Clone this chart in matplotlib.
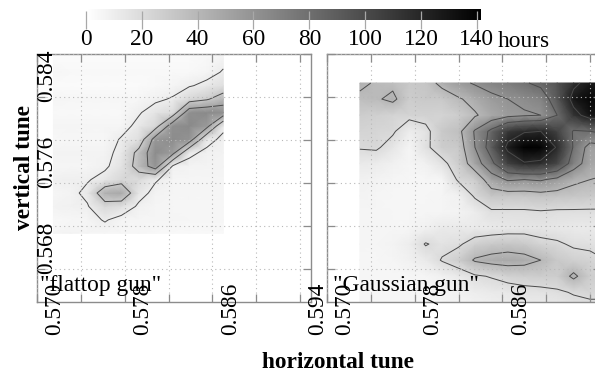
import numpy as np
import matplotlib
matplotlib.use("Agg")
import matplotlib.pyplot as plt
from matplotlib.transforms import ScaledTranslation

plt.rcParams['font.family'] = ['Liberation Serif', 'DejaVu Serif']
FS = 16.8

# ---------------- data ----------------
# "flattop gun": lifetime (hours) on a (horizontal tune, vertical tune) grid
flat_x = [0.5715, 0.5731, 0.5746, 0.5762, 0.5777, 0.5793, 0.5808, 0.5824, 0.5839, 0.5855, 0.5870]
flat_y = [0.56730, 0.56855, 0.56980, 0.57105, 0.57230, 0.57355, 0.57480, 0.57605,
          0.57730, 0.57855, 0.57980, 0.58105, 0.58230, 0.58355, 0.58480]
flat_hours = [  # rows: vertical tune ascending
    [6, 7, 6, 5, 5, 5, 4, 4, 4, 4, 4],
    [4, 5, 6, 11, 6, 6, 6, 6, 5, 5, 5],
    [7, 8, 9, 22, 18, 8, 6, 5, 5, 5, 5],
    [5, 7, 13, 44, 48, 14, 7, 6, 6, 6, 6],
    [8, 9, 9, 14, 22, 20, 11, 6, 6, 6, 6],
    [5, 6, 6, 8, 16, 38, 60, 8, 7, 7, 7],
    [7, 7, 7, 7, 13, 36, 64, 55, 12, 8, 7],
    [4, 5, 5, 5, 11, 18, 58, 64, 60, 13, 8],
    [6, 6, 6, 6, 6, 13, 22, 62, 65, 56, 12],
    [4, 4, 4, 4, 4, 9, 15, 20, 62, 65, 62],
    [6, 5, 5, 5, 5, 5, 8, 11, 22, 28, 40],
    [3, 3, 3, 3, 3, 3, 4, 6, 9, 13, 18],
    [5, 4, 4, 4, 4, 4, 4, 4, 4, 6, 11],
    [3, 3, 3, 3, 3, 3, 3, 3, 3, 4, 7],
    [4, 3, 3, 3, 3, 3, 3, 3, 3, 3, 4],
]

# "Gaussian gun"
gauss_x = [0.5730, 0.5745, 0.5760, 0.5775, 0.5790, 0.5805, 0.5820, 0.5835,
           0.5850, 0.5865, 0.5880, 0.5895, 0.5910, 0.5925, 0.5940, 0.5955]
gauss_y = [0.5813, 0.5798, 0.5783, 0.5768, 0.5753, 0.5738, 0.5723, 0.5708,
           0.5693, 0.5678, 0.5663, 0.5648, 0.5633, 0.5618, 0.5603]
gauss_hours = [  # rows: vertical tune descending (top row first)
    [44, 38, 36, 30, 32, 45, 55, 62, 68, 72, 78, 85, 95, 115, 128, 130],
    [36, 38, 44, 28, 30, 30, 38, 46, 55, 60, 64, 68, 92, 128, 138, 135],
    [28, 26, 24, 24, 25, 24, 28, 38, 48, 55, 58, 60, 80, 112, 130, 128],
    [24, 23, 22, 10, 16, 30, 35, 62, 85, 110, 118, 120, 105, 78, 80, 85],
    [21, 22, 14, 6, 17, 28, 30, 60, 90, 125, 142, 140, 118, 78, 52, 55],
    [12, 11, 8, 6, 8, 16, 28, 50, 75, 105, 118, 115, 102, 70, 50, 45],
    [8, 7, 6, 5, 5, 6, 22, 28, 50, 62, 60, 62, 55, 44, 40, 38],
    [7, 6, 5, 5, 5, 6, 8, 22, 32, 32, 32, 34, 33, 32, 30, 30],
    [6, 6, 5, 5, 6, 6, 7, 10, 18, 18, 18, 19, 18, 18, 18, 18],
    [6, 6, 6, 6, 8, 12, 12, 12, 12, 13, 14, 14, 13, 12, 12, 12],
    [6, 6, 7, 10, 21, 16, 18, 26, 30, 32, 30, 24, 22, 18, 17, 15],
    [5, 5, 6, 8, 12, 21, 28, 42, 46, 48, 46, 40, 30, 26, 24, 20],
    [5, 5, 5, 5, 6, 8, 12, 18, 21, 25, 27, 28, 28, 44, 28, 27],
    [5, 5, 5, 5, 5, 6, 8, 10, 12, 13, 15, 16, 18, 21, 23, 23],
    [5, 5, 5, 5, 5, 5, 6, 7, 8, 9, 10, 11, 12, 15, 16, 16],
]

flat_levels = [10, 30, 50]
gauss_levels = [20, 40, 60, 80, 100, 120]
cb_ticks = [0, 20, 40, 60, 80, 100, 120, 140]
x_major = [0.570, 0.578, 0.586, 0.594]
x_minor = [0.574, 0.582, 0.590]
y_major = [0.568, 0.576, 0.584]
y_minor = [0.564, 0.572, 0.580]
HMAX = 141.5

# ---------------- figure ----------------
W, H = 595, 375
fig = plt.figure(figsize=(W / 100, H / 100), dpi=100)


def px_axes(x0, y0, w, h):
    return fig.add_axes([x0 / W, 1 - (y0 + h) / H, w / W, h / H])


axL = px_axes(37, 54, 274, 248)
axR = px_axes(327, 54, 274, 248)
cax = px_axes(86, 9, 395, 11)

frame_col = '#8c8c8c'
pcs = []
for ax, xs, ys, z, lev, flip in [
        (axL, flat_x, flat_y, flat_hours, flat_levels, False),
        (axR, gauss_x, gauss_y, gauss_hours, gauss_levels, True)]:
    X = np.array(xs)
    Y = np.array(ys)
    Z = np.array(z, dtype=float)
    if flip:
        Y = Y[::-1]
        Z = Z[::-1]
    pc = ax.pcolormesh(X, Y, Z, shading='gouraud', cmap='gray_r', vmin=0, vmax=HMAX, zorder=1)
    pcs.append(pc)
    ax.contour(X, Y, Z, levels=lev, colors='#4a4a4a', linewidths=0.7, zorder=2)
    ax.set_xlim(0.570, 0.595)
    ax.set_ylim(0.5609, 0.584)
    ax.set_xticks(x_major)
    ax.set_xticks(x_minor, minor=True)
    ax.set_yticks(y_major)
    ax.set_yticks(y_minor, minor=True)
    ax.set_xticklabels([f"{v:.3f}" for v in x_major])
    ax.set_yticklabels([f"{v:.3f}" for v in y_major])
    for s in ax.spines.values():
        s.set_color(frame_col)
        s.set_linewidth(1.0)
    ax.tick_params(which='both', direction='in', top=True, right=True, length=6,
                   color=frame_col, width=0.9)
    ax.tick_params(axis='x', which='major', labelsize=FS, labelrotation=90, pad=-13.7)
    ax.tick_params(axis='y', which='major', labelsize=FS, labelrotation=90, pad=-14.4)
    ax.grid(True, which='both', color='#b8b8b8', linestyle=(0, (1, 3)), linewidth=0.8)
    ax.set_axisbelow(False)
    ax.set_facecolor('white')

axR.tick_params(axis='y', which='both', labelleft=False)

# offset tick labels as in the original
xoff = ScaledTranslation(0.18, 0, fig.dpi_scale_trans)
yoff = ScaledTranslation(0, 0.04, fig.dpi_scale_trans)
for ax in (axL, axR):
    for lab in ax.get_xticklabels():
        lab.set_transform(lab.get_transform() + xoff)
for lab in axL.get_yticklabels():
    lab.set_verticalalignment('top')
    lab.set_transform(lab.get_transform() + yoff)

axL.text(0.011, 0.044, '"flattop gun"', transform=axL.transAxes, fontsize=FS,
         va='baseline', ha='left', zorder=5)
axR.text(0.022, 0.044, '"Gaussian gun"', transform=axR.transAxes, fontsize=FS,
         va='baseline', ha='left', zorder=5)

# colorbar
cb = fig.colorbar(pcs[1], cax=cax, orientation='horizontal', ticks=cb_ticks)
cb.outline.set_visible(False)
cax.tick_params(direction='inout', length=13, color='#a8a8a8', width=0.9, pad=0,
                labelsize=FS)
cax.text(1.043, -2.45, 'hours', transform=cax.transAxes, fontsize=FS,
         va='baseline', ha='left')

fig.text(25 / W, 1 - 168 / H, 'vertical tune', rotation=90, fontsize=FS,
         fontweight='bold', ha='center', va='center')
fig.text(338 / W, 1 - 368 / H, 'horizontal tune', fontsize=FS,
         fontweight='bold', ha='center', va='baseline')

fig.savefig('out.png', dpi=100)
